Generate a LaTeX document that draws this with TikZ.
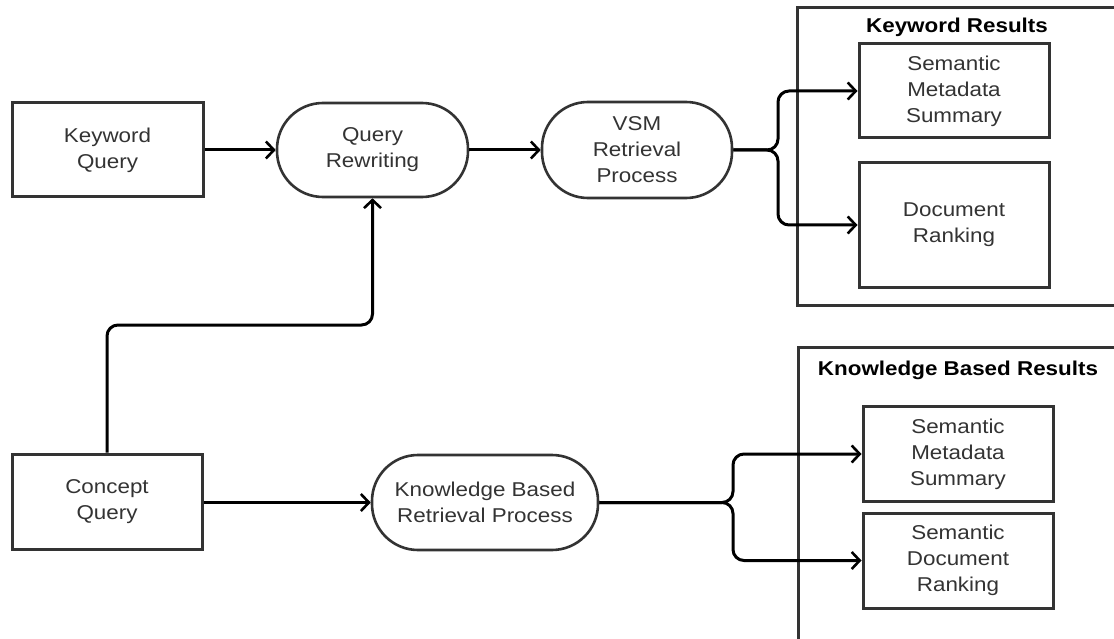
\documentclass[tikz,border=0pt]{standalone}
\usepackage{fontspec}
\setmainfont{Liberation Sans}[FakeStretch=1.12]
\usetikzlibrary{arrows.meta}
\definecolor{ln}{HTML}{333333}
\definecolor{tx}{HTML}{333333}
\begin{document}
\begin{tikzpicture}[x=1pt,y=-1pt,
  font=\fontsize{20}{26}\selectfont,
  box/.style={draw=ln, line width=3pt, fill=white, text=tx, align=center, inner sep=0pt},
  stadium/.style={box, rounded corners=46pt, line width=2.6pt},
  cont/.style={draw=ln, line width=3pt},
  title/.style={font=\fontsize{20}{26}\selectfont\bfseries, text=black, inner sep=0pt},
  arr/.style={line width=3pt, draw=black, -{Straight Barb[length=8pt,width=17pt,line width=2.6pt]}},
  link/.style={line width=3pt, draw=black, rounded corners=11pt}]
\useasboundingbox (0,0) rectangle (1114,639);
\clip (0,0) rectangle (1114,639);
% containers
\draw[cont] (797,8) rectangle (1130,305);
\draw[cont] (798,347) rectangle (1130,650);
\node[title] (t1) at (957,27) {Keyword Results};
\node[title] (t2) at (958,370) {Knowledge Based Results};
% nodes
\node[box, minimum width=191pt, minimum height=94pt] (kq) at (107.5,150) {Keyword\\Query};
\node[stadium, minimum width=191pt, minimum height=94pt] (qr) at (372.5,150) {Query\\Rewriting};
\node[stadium, minimum width=190pt, minimum height=96pt] (vsm) at (637,150) {VSM\\Retrieval\\Process};
\node[box, minimum width=190pt, minimum height=94pt] (smsk) at (954,91) {Semantic\\Metadata\\Summary};
\node[box, minimum width=190pt, minimum height=124pt] (drk) at (954,225) {Document\\Ranking};
\node[box, minimum width=190pt, minimum height=95pt] (cq) at (107,501.5) {Concept\\Query};
\node[stadium, minimum width=226pt, minimum height=95pt] (kbr) at (485,502.5) {Knowledge Based\\Retrieval Process};
\node[box, minimum width=190pt, minimum height=95pt] (smsb) at (958,454) {Semantic\\Metadata\\Summary};
\node[box, minimum width=190pt, minimum height=95pt] (sdr) at (958,560.5) {Semantic\\Document\\Ranking};
% branch coordinates
\coordinate (b1) at (778,152);
\coordinate (b2) at (733,502);
\coordinate (c1) at (0,325);
% connectors
\draw[arr] (kq.east) -- (qr.west);
\draw[arr] (qr.east) -- (vsm.west);
\draw[link, arr] (vsm.east) -- (vsm.east -| b1) -- (b1 |- smsk.west) -- (smsk.west);
\draw[link, arr] (vsm.east) -- (vsm.east -| b1) -- (b1 |- drk.west) -- (drk.west);
\draw[link, arr] (cq.north) -- (cq.north |- c1) -- (qr.south |- c1) -- (qr.south);
\draw[arr] (cq.east |- kbr.west) -- (kbr.west);
\draw[link, arr] (kbr.east) -- (kbr.east -| b2) -- (b2 |- smsb.west) -- (smsb.west);
\draw[link, arr] (kbr.east) -- (kbr.east -| b2) -- (b2 |- sdr.west) -- (sdr.west);
\end{tikzpicture}
\end{document}
